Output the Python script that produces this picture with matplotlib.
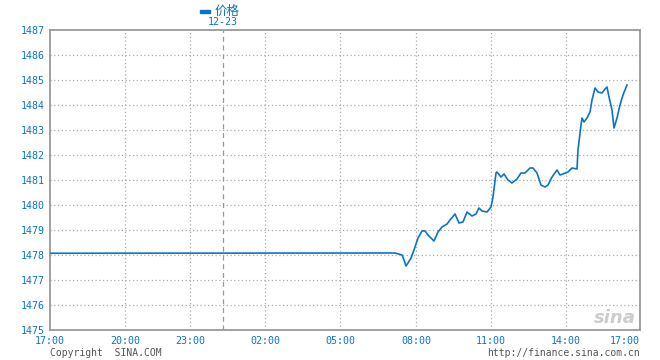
import matplotlib.pyplot as plt

# clock hours of the morning/afternoon session and price
times = [7.16, 7.44, 7.52, 7.60, 7.68, 7.80, 7.92, 8.08, 8.24, 8.36, 8.48, 8.72, 8.88,
         9.04, 9.24, 9.36, 9.56, 9.72, 9.88, 10.04, 10.24, 10.40, 10.52, 10.64, 10.84,
         11.00, 11.08, 11.20, 11.24, 11.40, 11.52, 11.68, 11.84, 12.04, 12.20, 12.36,
         12.56, 12.68, 12.84, 13.00, 13.16, 13.28, 13.44, 13.64, 13.76, 13.88, 14.08,
         14.24, 14.44, 14.48, 14.60, 14.64, 14.72, 14.84, 14.96, 15.04, 15.16, 15.28,
         15.44, 15.56, 15.64, 15.72, 15.84, 15.92, 16.04, 16.16, 16.28, 16.44]
prices = [1478.08, 1478.00, 1477.80, 1477.56, 1477.68, 1477.88, 1478.20, 1478.68, 1478.96,
          1478.96, 1478.80, 1478.56, 1478.92, 1479.12, 1479.24, 1479.40, 1479.64, 1479.28,
          1479.32, 1479.72, 1479.56, 1479.64, 1479.88, 1479.76, 1479.72, 1479.92, 1480.32,
          1481.28, 1481.32, 1481.12, 1481.24, 1481.00, 1480.88, 1481.04, 1481.28, 1481.28,
          1481.48, 1481.48, 1481.28, 1480.80, 1480.72, 1480.80, 1481.12, 1481.40, 1481.20,
          1481.24, 1481.32, 1481.48, 1481.44, 1482.20, 1483.20, 1483.48, 1483.32, 1483.48,
          1483.72, 1484.20, 1484.68, 1484.52, 1484.48, 1484.64, 1484.72, 1484.32, 1483.80,
          1483.08, 1483.48, 1484.00, 1484.40, 1484.80]
prev_price = 1478.07

tick_labels = ["17:00", "20:00", "23:00", "02:00", "05:00", "08:00", "11:00", "14:00", "17:00"]
tick_pos = [0, 3, 5.6, 8.6, 11.6, 14.64, 17.64, 20.64, 23.6]
day_break = 6.93

blue = "#0a74c8"
grid_c = "#aaaaaa"
mono = "DejaVu Sans Mono"

# axis position of a clock hour in the day session (08:00 -> 14.64)
xs = [14.64 + (t - 8) for t in times]
xs = [0] + xs
ys = [prev_price] + prices

fig = plt.figure(figsize=(6.6, 3.6), dpi=100)
ax = fig.add_axes([50 / 660, 1 - 330 / 360, 590 / 660, 300 / 360])

ax.plot(xs, ys, color=blue, lw=1.2, zorder=3)

ax.set_xlim(0, 23.6)
ax.set_ylim(1475, 1487)
ax.set_yticks(range(1475, 1488))
ax.set_xticks(tick_pos)
ax.set_xticklabels(tick_labels)
for i, lab in enumerate(ax.get_xticklabels()):
    if i == len(tick_pos) - 1:
        lab.set_horizontalalignment("right")

for y in range(1476, 1487):
    ax.axhline(y, color=grid_c, lw=0.9, ls=(0, (1, 2)), zorder=1)
for x in tick_pos[1:-1]:
    ax.axvline(x, color=grid_c, lw=0.9, ls=(0, (1, 2)), zorder=1)
ax.axvline(day_break, color="#999999", lw=0.9, ls=(0, (4, 3)), zorder=1)

for s in ax.spines.values():
    s.set_color("#999999")
    s.set_linewidth(1.3)

ax.tick_params(length=0, labelsize=7.2, labelcolor=blue, pad=4)
for lab in ax.get_xticklabels() + ax.get_yticklabels():
    lab.set_family(mono)

# legend
fig.patches.append(plt.Rectangle((200 / 660, 1 - 13 / 360), 10 / 660, 3 / 360,
                                 transform=fig.transFigure, color=blue))
fig.text(215 / 660, 1 - 11 / 360, "价格", color=blue, fontsize=9,
         family=["Noto Sans CJK SC", "DejaVu Sans"], va="center")
fig.text(223 / 660, 1 - 22 / 360, "12-23", color=blue, fontsize=7.2, family=mono,
         ha="center", va="center")

# footer
fig.text(50 / 660, 1 - 353 / 360, "Copyright  SINA.COM", color="#555555",
         fontsize=7, family=mono, va="center")
fig.text(640 / 660, 1 - 353 / 360, "http://finance.sina.com.cn", color="#555555",
         fontsize=7, family=mono, va="center", ha="right")
fig.text(636 / 660, 1 - 318 / 360, "sina", color="#cccccc", fontsize=13,
         style="italic", weight="bold", ha="right", va="center")

fig.savefig("out.png", dpi=100)
